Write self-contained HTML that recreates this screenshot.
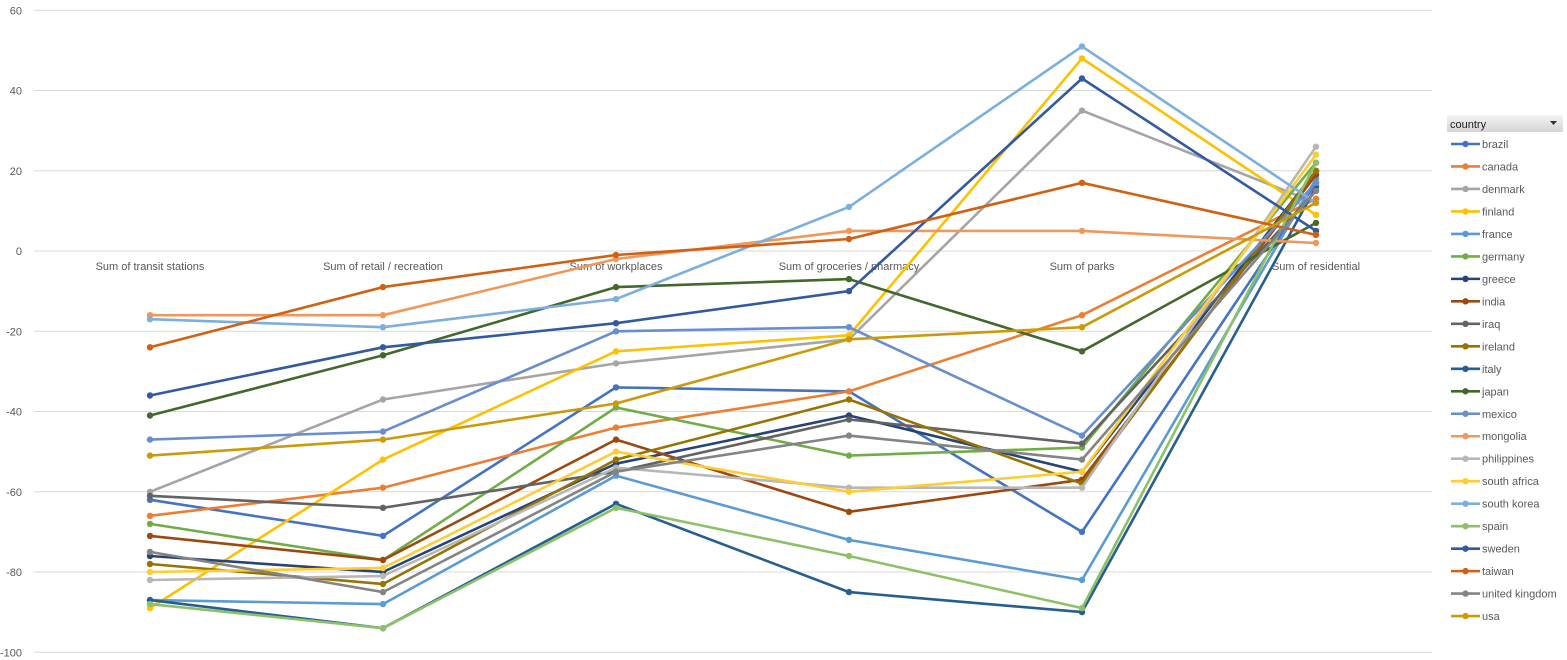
<!DOCTYPE html>
<html><head><meta charset="utf-8"><style>
html,body{margin:0;padding:0;background:#fff;}
svg{display:block;font-family:"Liberation Sans",sans-serif;}
</style></head><body>
<svg id="c" width="1567" height="660" viewBox="0 0 1567 660" xmlns="http://www.w3.org/2000/svg"></svg>
<script>
var s=document.getElementById('c'),h='';
function Y(v){return 251-v*4.0125;}
for(var v=60;v>=-100;v-=20){var y=Y(v);
 h+='<line x1="34" x2="1432" y1="'+y+'" y2="'+y+'" stroke="#d9d9d9" stroke-width="1"/>';
 h+='<text x="22" y="'+(y+4)+'" font-size="11" fill="#595959" text-anchor="end">'+v+'</text>';}
var X=[150,383,616,849,1082,1316];
var cats=['Sum of transit stations','Sum of retail / recreation','Sum of workplaces','Sum of groceries / pharmacy','Sum of parks','Sum of residential'];
for(var i=0;i<6;i++)h+='<text x="'+X[i]+'" y="270" font-size="11" fill="#595959" text-anchor="middle">'+cats[i]+'</text>';
var D=[
['brazil','#4472C4',[-62,-71,-34,-35,-70,17]],
['canada','#ED7D31',[-66,-59,-44,-35,-16,13]],
['denmark','#A5A5A5',[-60,-37,-28,-22,35,12]],
['finland','#FFC000',[-89,-52,-25,-21,48,9]],
['france','#5B9BD5',[-87,-88,-56,-72,-82,18]],
['germany','#70AD47',[-68,-77,-39,-51,-49,22]],
['greece','#264478',[-76,-80,-53,-41,-55,20]],
['india','#9E480E',[-71,-77,-47,-65,-57,19]],
['iraq','#636363',[-61,-64,-55,-42,-48,15]],
['ireland','#997300',[-78,-83,-52,-37,-58,20]],
['italy','#255E91',[-87,-94,-63,-85,-90,16]],
['japan','#43682B',[-41,-26,-9,-7,-25,7]],
['mexico','#698ED0',[-47,-45,-20,-19,-46,17]],
['mongolia','#F1975A',[-16,-16,-2,5,5,2]],
['philippines','#B7B7B7',[-82,-81,-54,-59,-59,26]],
['south africa','#FFCD33',[-80,-79,-50,-60,-55,24]],
['south korea','#7CAFDD',[-17,-19,-12,11,51,12]],
['spain','#8CC168',[-88,-94,-64,-76,-89,22]],
['sweden','#335AA1',[-36,-24,-18,-10,43,5]],
['taiwan','#D26012',[-24,-9,-1,3,17,4]],
['united kingdom','#848484',[-75,-85,-55,-46,-52,15]],
['usa','#CC9A06',[-51,-47,-38,-22,-19,12]]];
D.forEach(function(d,k){var p=d[2].map(function(v,i){return X[i]+','+Y(v).toFixed(1);}).join(' ');
 h+='<polyline points="'+p+'" fill="none" stroke="'+d[1]+'" stroke-width="2.6" stroke-linejoin="round"/>';
 d[2].forEach(function(v,i){h+='<circle cx="'+X[i]+'" cy="'+Y(v).toFixed(1)+'" r="3.2" fill="'+d[1]+'"/>';});
 var ly=144+k*22.48;
 h+='<line x1="1451" x2="1480" y1="'+ly+'" y2="'+ly+'" stroke="'+d[1]+'" stroke-width="2.6"/><circle cx="1465.5" cy="'+ly+'" r="3.2" fill="'+d[1]+'"/>';
 h+='<text x="1482" y="'+(ly+4)+'" font-size="11" fill="#595959">'+d[0]+'</text>';});
h+='<defs><linearGradient id="g" x1="0" y1="0" x2="0" y2="1"><stop offset="0" stop-color="#f4f4f4"/><stop offset="1" stop-color="#d4d4d4"/></linearGradient></defs>';
h+='<rect x="1447" y="115" width="116" height="17" fill="url(#g)"/><text x="1450" y="128" font-size="11" fill="#222">country</text><path d="M1550 121 l7 0 l-3.5 4z" fill="#333"/>';
s.innerHTML=h;
</script>
</body></html>
